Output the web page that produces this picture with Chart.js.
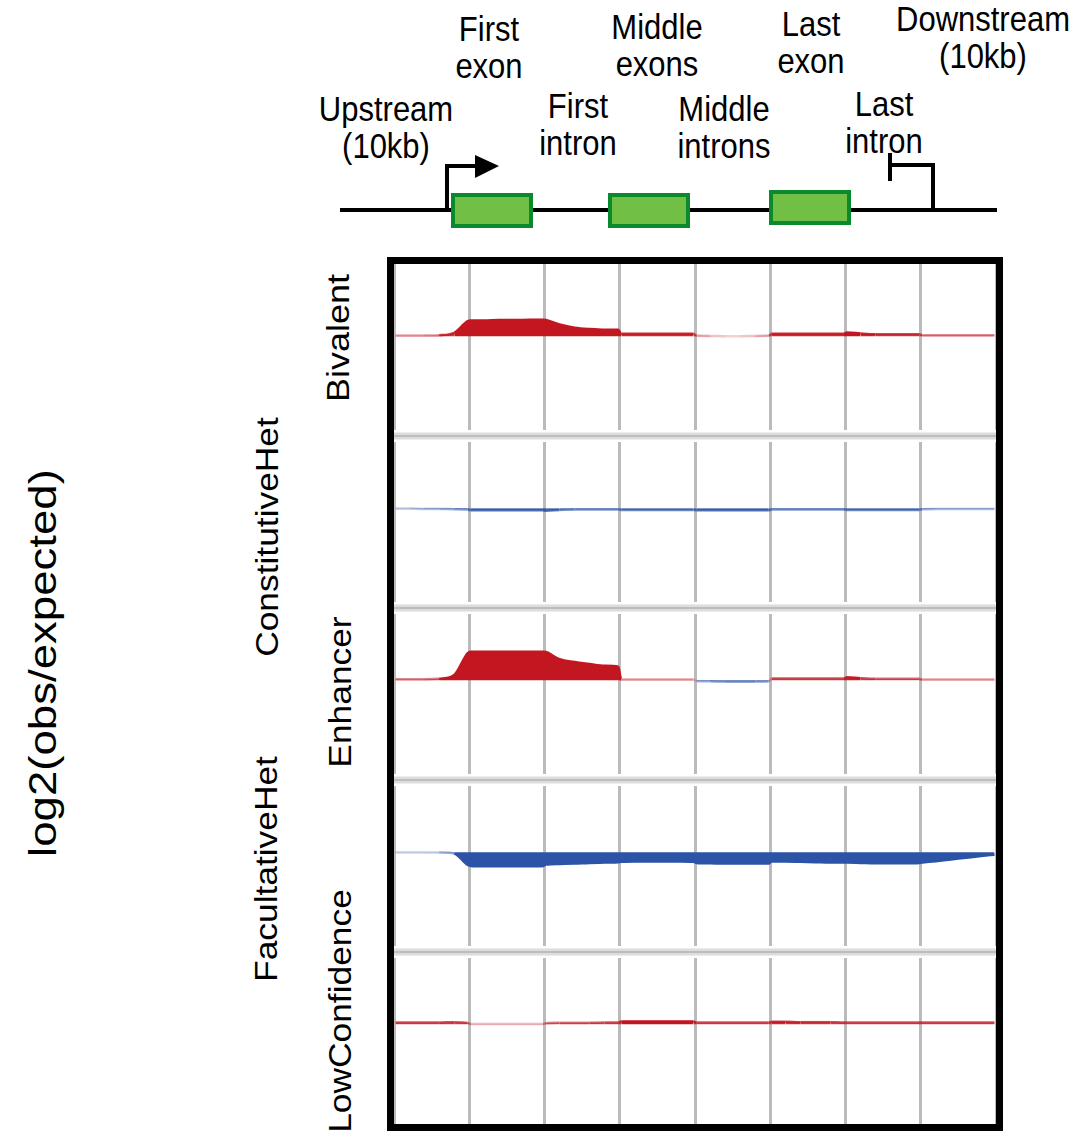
<!DOCTYPE html>
<html>
<head>
<meta charset="utf-8">
<script src="https://cdn.jsdelivr.net/npm/chart.js@4.4.1/dist/chart.umd.min.js"></script>
<style>
  html, body { margin: 0; padding: 0; background: #fff; }
  body { width: 1078px; height: 1143px; position: relative; overflow: hidden;
         font-family: "Liberation Sans", Arial, Helvetica, sans-serif; color: #000; }
  .top { position: absolute; font-size: 31px; line-height: 33px; text-align: center;
         white-space: nowrap; transform-origin: 50% 0; }
  .rot { position: absolute; white-space: nowrap; line-height: 1; transform-origin: 0 0; }
  #wrap { position: absolute; left: 387px; top: 257px; width: 616px; height: 874px; }
  svg { position: absolute; left: 0; top: 0; }
</style>
</head>
<body>
<svg width="1078" height="260">
  <line x1="340" y1="210" x2="997" y2="210" stroke="#000" stroke-width="4"/>
  <polyline points="447,210 447,166 478,166" fill="none" stroke="#000" stroke-width="4"/>
  <polygon points="475,155 499,166 475,178" fill="#000"/>
  <polyline points="933,210 933,165 890,165" fill="none" stroke="#000" stroke-width="4"/>
  <line x1="890" y1="153" x2="890" y2="181" stroke="#000" stroke-width="4"/>
  <rect x="453" y="195" width="78" height="31" fill="#71bf44" stroke="#0b8a2d" stroke-width="4"/>
  <rect x="610" y="195" width="78" height="31" fill="#71bf44" stroke="#0b8a2d" stroke-width="4"/>
  <rect x="771" y="192" width="78" height="31" fill="#71bf44" stroke="#0b8a2d" stroke-width="4"/>
</svg>

<div class="top" style="left:489px; top:10px; transform:translateX(-50%) scaleY(1.13)">First<br>exon</div>
<div class="top" style="left:657px; top:8px; transform:translateX(-50%) scaleY(1.13)">Middle<br>exons</div>
<div class="top" style="left:811px; top:5px; transform:translateX(-50%) scaleY(1.13)">Last<br>exon</div>
<div class="top" style="left:983px; top:0px; transform:translateX(-50%) scaleY(1.13)">Downstream<br>(10kb)</div>
<div class="top" style="left:386px; top:90px; transform:translateX(-50%) scaleY(1.13)">Upstream<br>(10kb)</div>
<div class="top" style="left:578px; top:87px; transform:translateX(-50%) scaleY(1.13)">First<br>intron</div>
<div class="top" style="left:724px; top:90px; transform:translateX(-50%) scaleY(1.13)">Middle<br>introns</div>
<div class="top" style="left:884px; top:85px; transform:translateX(-50%) scaleY(1.13)">Last<br>intron</div>

<div class="rot" style="left:43px; top:663px; font-size:38px; transform:rotate(-90deg) scaleX(1.2) translate(-50%,-50%)">log2(obs/expected)</div>
<div class="rot" style="left:338px; top:338px; font-size:31px; transform:rotate(-90deg) scaleX(1.16) translate(-50%,-50%)">Bivalent</div>
<div class="rot" style="left:267px; top:537px; font-size:31px; transform:rotate(-90deg) scaleX(1.14) translate(-50%,-50%)">ConstitutiveHet</div>
<div class="rot" style="left:340px; top:692px; font-size:31px; transform:rotate(-90deg) scaleX(1.14) translate(-50%,-50%)">Enhancer</div>
<div class="rot" style="left:266px; top:869px; font-size:31px; transform:rotate(-90deg) scaleX(1.14) translate(-50%,-50%)">FacultativeHet</div>
<div class="rot" style="left:340px; top:1011px; font-size:31px; transform:rotate(-90deg) scaleX(1.14) translate(-50%,-50%)">LowConfidence</div>

<div id="wrap"><canvas id="profile"></canvas></div>

<script>
// gene regions (one column each) and sample positions inside a region
const regions = ["Upstream", "First exon", "First intron", "Middle exons",
                 "Middle introns", "Last exon", "Last intron", "Downstream"];
const binOffsets = [0.02, 0.2, 0.4, 0.6, 0.8, 0.98];

const states = ["Bivalent", "ConstitutiveHet", "Enhancer", "FacultativeHet", "LowConfidence"];

// log2(obs/expected), 6 bins per region
const bivalent = [
  0.02, 0.02, 0.02, 0.03, 0.10, 0.44,
  0.46, 0.46, 0.47, 0.47, 0.48, 0.48,
  0.47, 0.34, 0.25, 0.21, 0.19, 0.19,
  0.07, 0.07, 0.07, 0.07, 0.07, 0.07,
  0.02, 0.01, 0.00, 0.00, 0.01, 0.02,
  0.07, 0.07, 0.07, 0.07, 0.07, 0.07,
  0.11, 0.08, 0.06, 0.06, 0.06, 0.06,
  0.03, 0.03, 0.03, 0.03, 0.03, 0.03
];
const constitutiveHet = [
  -0.01, -0.01, -0.02, -0.02, -0.03, -0.04,
  -0.06, -0.06, -0.06, -0.06, -0.06, -0.06,
  -0.07, -0.05, -0.04, -0.04, -0.04, -0.04,
  -0.05, -0.05, -0.05, -0.05, -0.05, -0.05,
  -0.06, -0.06, -0.06, -0.06, -0.06, -0.06,
  -0.04, -0.04, -0.04, -0.04, -0.04, -0.04,
  -0.05, -0.05, -0.05, -0.05, -0.05, -0.05,
  -0.03, -0.02, -0.02, -0.02, -0.02, -0.02
];
const enhancer = [
  0.03, 0.03, 0.03, 0.04, 0.15, 0.79,
  0.83, 0.83, 0.83, 0.83, 0.83, 0.83,
  0.82, 0.61, 0.53, 0.47, 0.42, 0.39,
  0.02, 0.02, 0.02, 0.02, 0.02, 0.02,
  -0.02, -0.03, -0.04, -0.04, -0.04, -0.03,
  0.05, 0.05, 0.05, 0.05, 0.05, 0.05,
  0.09, 0.06, 0.04, 0.04, 0.04, 0.04,
  0.02, 0.02, 0.02, 0.02, 0.02, 0.02
];
const facultativeHet = [
  -0.005, -0.005, -0.005, -0.01, -0.04, -0.37,
  -0.40, -0.41, -0.41, -0.41, -0.41, -0.40,
  -0.36, -0.34, -0.33, -0.31, -0.30, -0.29,
  -0.28, -0.27, -0.27, -0.27, -0.27, -0.28,
  -0.31, -0.32, -0.33, -0.33, -0.33, -0.33,
  -0.26, -0.27, -0.28, -0.29, -0.30, -0.30,
  -0.30, -0.31, -0.32, -0.32, -0.32, -0.31,
  -0.30, -0.26, -0.21, -0.16, -0.11, -0.07
];
const lowConfidence = [
  0.05, 0.05, 0.05, 0.05, 0.06, 0.04,
  0.01, 0.01, 0.01, 0.01, 0.01, 0.01,
  0.03, 0.04, 0.04, 0.04, 0.05, 0.05,
  0.08, 0.08, 0.08, 0.08, 0.08, 0.08,
  0.05, 0.05, 0.05, 0.05, 0.05, 0.05,
  0.07, 0.07, 0.06, 0.06, 0.06, 0.05,
  0.05, 0.05, 0.05, 0.05, 0.05, 0.05,
  0.05, 0.05, 0.05, 0.05, 0.05, 0.05
];
const series = [bivalent, constitutiveHet, enhancer, facultativeHet, lowConfidence];

const yMin = -2.9, yMax = 2.1;

// bin position on the x scale (region index + offset inside the region)
const positions = [];
regions.forEach((r, i) => binOffsets.forEach(o => positions.push(i + o)));

function shade(v) {
  const a = Math.min(1, 0.2 + Math.abs(v) * 10);
  return v >= 0 ? "rgba(194,22,32," + a + ")" : "rgba(44,84,166," + a + ")";
}
const segShade = c => shade((c.p0.parsed.y + c.p1.parsed.y) / 2);

const datasets = series.map((vals, i) => ({
  label: states[i],
  data: vals.map((v, j) => ({ x: positions[j], y: v })),
  yAxisID: "y" + i,
  borderColor: shade(vals[10]),
  backgroundColor: shade(vals[10]),
  borderWidth: 2.5,
  pointRadius: 0,
  fill: "origin",
  cubicInterpolationMode: "monotone",
  segment: { borderColor: segShade, backgroundColor: segShade }
}));

const scales = {
  x: {
    type: "linear", min: 0, max: regions.length, z: 1,
    ticks: { display: false, stepSize: 1 },
    grid: { color: "rgba(145,145,145,0.62)", lineWidth: 3, drawTicks: false },
    border: { display: false }
  }
};
// stacked row axes; the layout puts the first one defined at the bottom
for (let i = states.length - 1; i >= 0; i--) {
  scales["y" + i] = {
    type: "linear", min: yMin, max: yMax,
    stack: "rows", stackWeight: 1, position: "left",
    ticks: { display: false },
    grid: { display: false, drawTicks: false },
    border: { display: false }
  };
}

// grey strips between the rows and the black frame
const frame = {
  id: "frame",
  afterDraw(chart) {
    const { ctx, chartArea: a } = chart;
    ctx.save();
    states.forEach((s, i) => {
      const sc = chart.scales["y" + i];
      if (sc.bottom < a.bottom - 2) {
        const y = sc.bottom;
        ctx.fillStyle = "#fff";
        ctx.fillRect(a.left, y - 6, a.width, 12);
        ctx.fillStyle = "#dcdcdc";
        ctx.fillRect(a.left, y - 3.5, a.width, 7);
        ctx.fillStyle = "#bdbdbd";
        ctx.fillRect(a.left, y - 1, a.width, 2);
      }
    });
    ctx.strokeStyle = "#000";
    ctx.lineWidth = 7;
    ctx.strokeRect(a.left - 3.5, a.top - 3.5, a.width + 7, a.height + 7);
    ctx.restore();
  }
};

new Chart(document.getElementById("profile").getContext("2d"), {
  type: "line",
  data: { datasets: datasets },
  options: {
    responsive: true,
    maintainAspectRatio: false,
    animation: false,
    layout: { padding: 7 },
    scales: scales,
    plugins: { legend: { display: false }, tooltip: { enabled: false } }
  },
  plugins: [frame]
});
</script>
</body>
</html>
